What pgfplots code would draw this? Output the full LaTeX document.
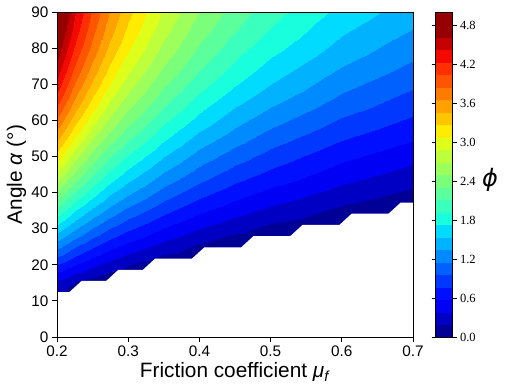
\documentclass[border=0pt]{standalone}
\usepackage{fontspec}
\setmainfont{Liberation Sans}
\newfontfamily\cbfont{Liberation Serif}
\newfontfamily\phifont{DejaVu Sans}
\usepackage{pgfplots}
\pgfplotsset{compat=1.18}

% jet sampled at the 25 band centres (0.1, 0.3, ..., 4.9 of 0..5); last colour repeated
\pgfplotsset{colormap={jetc}{
  rgb=(0,0,0.591) rgb=(0,0,0.773) rgb=(0,0,0.955) rgb=(0,0.06,1) rgb=(0,0.22,1)
  rgb=(0,0.38,1) rgb=(0,0.54,1) rgb=(0,0.70,1) rgb=(0,0.86,1) rgb=(0.097,1,0.871)
  rgb=(0.226,1,0.742) rgb=(0.355,1,0.613) rgb=(0.484,1,0.484) rgb=(0.613,1,0.355) rgb=(0.742,1,0.226)
  rgb=(0.871,1,0.097) rgb=(1,0.926,0) rgb=(1,0.778,0) rgb=(1,0.630,0) rgb=(1,0.481,0)
  rgb=(1,0.333,0) rgb=(1,0.185,0) rgb=(0.955,0.037,0) rgb=(0.773,0,0) rgb=(0.591,0,0)
  rgb=(0.591,0,0)}}

\begin{document}
\begin{tikzpicture}
\path[use as bounding box] (-57pt,-52pt) rectangle (448pt,337pt);
\begin{axis}[
  at={(0,0)}, anchor=south west,
  scale only axis, width=356pt, height=325pt,
  xmin=0.2, xmax=0.7, ymin=0, ymax=90,
  enlargelimits=false,
  axis on top,
  xtick={0.2,0.3,0.4,0.5,0.6,0.7},
  ytick={0,10,20,30,40,50,60,70,80,90},
  scaled x ticks=false,
  xticklabel style={/pgf/number format/.cd, fixed, fixed zerofill, precision=1},
  /pgf/number format/assume math mode=true,
  tick label style={font=\fontsize{15.3}{16}\selectfont},
  label style={font=\fontsize{20.8}{22}\selectfont},
  tick align=outside, xtick pos=left, ytick pos=left,
  major tick length=5pt,
  major tick style={black, line width=0.9pt},
  axis line style={line width=0.9pt},
  xlabel={Friction coefficient \textit{μ}\textsubscript{\textit{f}}},
  ylabel={Angle \textit{α} (°)},
  xlabel style={at={(axis description cs:0.5,-0.126)}, anchor=base},
  ylabel style={at={(axis description cs:-0.099,0.5)}, anchor=base},
  colormap name=jetc,
  colormap access=piecewise constant,
  point meta min=0, point meta max=5,
  colorbar,
  colorbar style={
    at={(parent axis.north east)}, anchor=north west, xshift=14pt,
    scale only axis, width=17pt, height=325pt,
    ytick={0,0.6,1.2,1.8,2.4,3.0,3.6,4.2,4.8},
    yticklabel style={font=\cbfont\fontsize{12.5}{13}\selectfont,
      /pgf/number format/.cd, fixed, fixed zerofill, precision=1},
    /pgf/number format/assume math mode=true,
    tick align=outside, major tick length=4pt,
    major tick style={black, line width=0.9pt},
    axis line style={line width=0.9pt},
    ylabel={\phifont\itshape ϕ},
    ylabel style={at={(axis description cs:3.2,0.485)}, rotate=-90, anchor=center,
      font=\fontsize{24}{26}\selectfont},
  },
]
% phi(mu, alpha) on a mu x alpha grid
\addplot[surf, shader=interp, mesh/cols=19, point meta=explicit]
  table[x=mu, y=al, meta=phi] {
mu al phi
0.2 0 -1.00
0.2 5 -0.56
0.2 10 -0.12
0.2 15 0.33
0.2 20 0.77
0.2 25 1.21
0.2 30 1.63
0.2 35 2.05
0.2 40 2.45
0.2 45 2.83
0.2 50 3.19
0.2 55 3.52
0.2 60 3.83
0.2 65 4.11
0.2 70 4.36
0.2 75 4.57
0.2 80 4.75
0.2 85 4.89
0.2 90 5.00
0.225 0 -1.00
0.225 5 -0.61
0.225 10 -0.21
0.225 15 0.18
0.225 20 0.58
0.225 25 0.97
0.225 30 1.36
0.225 35 1.73
0.225 40 2.09
0.225 45 2.44
0.225 50 2.76
0.225 55 3.07
0.225 60 3.35
0.225 65 3.61
0.225 70 3.83
0.225 75 4.03
0.225 80 4.20
0.225 85 4.34
0.225 90 4.44
0.25 0 -1.00
0.25 5 -0.65
0.25 10 -0.29
0.25 15 0.07
0.25 20 0.43
0.25 25 0.78
0.25 30 1.13
0.25 35 1.48
0.25 40 1.81
0.25 45 2.12
0.25 50 2.42
0.25 55 2.70
0.25 60 2.96
0.25 65 3.20
0.25 70 3.42
0.25 75 3.60
0.25 80 3.77
0.25 85 3.90
0.25 90 4.00
0.275 0 -1.00
0.275 5 -0.68
0.275 10 -0.35
0.275 15 -0.02
0.275 20 0.30
0.275 25 0.63
0.275 30 0.95
0.275 35 1.27
0.275 40 1.57
0.275 45 1.86
0.275 50 2.14
0.275 55 2.41
0.275 60 2.65
0.275 65 2.87
0.275 70 3.08
0.275 75 3.25
0.275 80 3.41
0.275 85 3.54
0.275 90 3.64
0.3 0 -1.00
0.3 5 -0.71
0.3 10 -0.41
0.3 15 -0.10
0.3 20 0.20
0.3 25 0.50
0.3 30 0.80
0.3 35 1.09
0.3 40 1.38
0.3 45 1.65
0.3 50 1.91
0.3 55 2.16
0.3 60 2.39
0.3 65 2.60
0.3 70 2.79
0.3 75 2.96
0.3 80 3.11
0.3 85 3.23
0.3 90 3.33
0.35 0 -1.00
0.35 5 -0.75
0.35 10 -0.49
0.35 15 -0.23
0.35 20 0.04
0.35 25 0.30
0.35 30 0.56
0.35 35 0.82
0.35 40 1.07
0.35 45 1.31
0.35 50 1.55
0.35 55 1.77
0.35 60 1.97
0.35 65 2.17
0.35 70 2.34
0.35 75 2.50
0.35 80 2.64
0.35 85 2.76
0.35 90 2.86
0.4 0 -1.00
0.4 5 -0.78
0.4 10 -0.55
0.4 15 -0.32
0.4 20 -0.08
0.4 25 0.15
0.4 30 0.38
0.4 35 0.61
0.4 40 0.84
0.4 45 1.06
0.4 50 1.27
0.4 55 1.47
0.4 60 1.67
0.4 65 1.84
0.4 70 2.01
0.4 75 2.16
0.4 80 2.29
0.4 85 2.40
0.4 90 2.50
0.45 0 -1.00
0.45 5 -0.80
0.45 10 -0.60
0.45 15 -0.39
0.45 20 -0.18
0.45 25 0.03
0.45 30 0.25
0.45 35 0.46
0.45 40 0.66
0.45 45 0.86
0.45 50 1.06
0.45 55 1.25
0.45 60 1.42
0.45 65 1.59
0.45 70 1.75
0.45 75 1.89
0.45 80 2.01
0.45 85 2.13
0.45 90 2.22
0.5 0 -1.00
0.5 5 -0.82
0.5 10 -0.64
0.5 15 -0.45
0.5 20 -0.26
0.5 25 -0.06
0.5 30 0.13
0.5 35 0.33
0.5 40 0.52
0.5 45 0.71
0.5 50 0.89
0.5 55 1.06
0.5 60 1.23
0.5 65 1.39
0.5 70 1.54
0.5 75 1.67
0.5 80 1.80
0.5 85 1.91
0.5 90 2.00
0.6 0 -1.00
0.6 5 -0.85
0.6 10 -0.70
0.6 15 -0.53
0.6 20 -0.37
0.6 25 -0.20
0.6 30 -0.03
0.6 35 0.14
0.6 40 0.31
0.6 45 0.47
0.6 50 0.63
0.6 55 0.79
0.6 60 0.94
0.6 65 1.09
0.6 70 1.22
0.6 75 1.35
0.6 80 1.47
0.6 85 1.57
0.6 90 1.67
0.7 0 -1.00
0.7 5 -0.87
0.7 10 -0.74
0.7 15 -0.60
0.7 20 -0.45
0.7 25 -0.30
0.7 30 -0.15
0.7 35 0.00
0.7 40 0.15
0.7 45 0.30
0.7 50 0.45
0.7 55 0.60
0.7 60 0.74
0.7 65 0.87
0.7 70 1.00
0.7 75 1.12
0.7 80 1.23
0.7 85 1.34
0.7 90 1.43
};
% masked region (no valid phi), staircase boundary
\addplot[draw=none, fill=white] coordinates {
(0.19,-2) (0.19,12.414) (0.2172,12.414) (0.2345,15.517) (0.2690,15.517)
(0.2862,18.621) (0.3207,18.621) (0.3379,21.724) (0.3897,21.724)
(0.4069,24.828) (0.4586,24.828) (0.4759,27.931) (0.5276,27.931)
(0.5448,31.034) (0.5966,31.034) (0.6138,34.138) (0.6655,34.138)
(0.6828,37.241) (0.71,37.241) (0.71,-2)
} -- cycle;
\end{axis}
\end{tikzpicture}
\end{document}
